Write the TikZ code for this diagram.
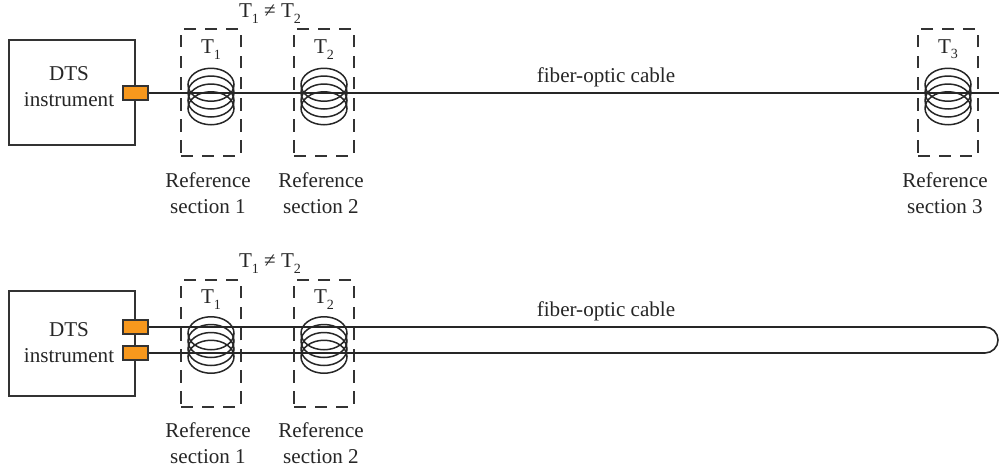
\documentclass[tikz,border=0pt]{standalone}
\usepackage{fontspec}
\setmainfont{Liberation Serif}
\usepackage{xcolor}
\definecolor{portorange}{HTML}{F7981D}
\newcommand{\tsub}[1]{T\raisebox{-0.55ex}{\footnotesize #1}}
\tikzset{
  instrbox/.style={draw=black!80,line width=0.9pt,minimum width=2.52cm,minimum height=2.1cm},
  port/.style={draw=black!80,fill=portorange,line width=0.9pt,minimum width=0.5cm,minimum height=0.27cm,inner sep=0pt},
  refbox/.style={draw=black!80,dashed,dash pattern=on 7pt off 5pt,line width=0.8pt,minimum width=1.2cm,minimum height=2.54cm},
  cable/.style={draw=black!85,line width=0.9pt},
  lbl/.style={align=center,inner sep=0pt,font=\fontsize{12}{14.7}\selectfont,text=black!85}
}
\newcommand{\coil}[1]{
\foreach \dy in {-0.235,-0.08,0.08,0.235}
  \draw[black!85,line width=0.85pt] ([yshift=\dy cm]#1) ellipse[x radius=0.46,y radius=0.33];
}
\begin{document}
\begin{tikzpicture}
\useasboundingbox (0,0) rectangle (19.98,9.4);
% upper layout
\node[refbox] (boxa) at (4.22,7.55) {};
\node[refbox] (boxb) at (6.48,7.55) {};
\node[refbox] (boxc) at (18.96,7.55) {};
\node[instrbox] (dts) at (1.44,7.55) {};
\node[lbl] (dtstext) at (1.38,7.66) {DTS\\instrument};
\node[port] (port) at (2.71,7.54) {};
\coordinate (cableend) at (19.98,7.54);
\draw[cable] (port.east) -- (cableend);
\coordinate (coila) at (4.22,7.47);
\coordinate (coilb) at (6.48,7.47);
\coordinate (coilc) at (18.96,7.47);
\coil{coila}
\coil{coilb}
\coil{coilc}
\node[lbl] (ta) at (4.22,8.41) {\tsub{1}};
\node[lbl] (tb) at (6.48,8.41) {\tsub{2}};
\node[lbl] (tc) at (18.96,8.41) {\tsub{3}};
\node[lbl] (neq) at (5.4,9.13) {\tsub{1} ≠ \tsub{2}};
\node[lbl] (fiber) at (12.12,7.85) {fiber-optic cable};
\node[lbl] (refa) at (4.16,5.54) {Reference\\section 1};
\node[lbl] (refb) at (6.42,5.54) {Reference\\section 2};
\node[lbl] (refc) at (18.9,5.54) {Reference\\section 3};
% lower layout
\node[refbox] (boxd) at (4.22,2.53) {};
\node[refbox] (boxe) at (6.48,2.53) {};
\node[instrbox] (dtsb) at (1.44,2.53) {};
\node[lbl] (dtsbtext) at (1.38,2.55) {DTS\\instrument};
\node[port] (portu) at (2.71,2.86) {};
\node[port] (portl) at (2.71,2.34) {};
\coordinate (loopu) at (19.96,2.86);
\coordinate (loopl) at (19.96,2.34);
\draw[cable,rounded corners=0.26cm] (portu.east) -- (loopu) -- (loopl) -- (portl.east);
\coordinate (coild) at (4.22,2.5);
\coordinate (coile) at (6.48,2.5);
\coil{coild}
\coil{coile}
\node[lbl] (td) at (4.22,3.41) {\tsub{1}};
\node[lbl] (te) at (6.48,3.41) {\tsub{2}};
\node[lbl] (neqb) at (5.4,4.13) {\tsub{1} ≠ \tsub{2}};
\node[lbl] (fiberb) at (12.12,3.17) {fiber-optic cable};
\node[lbl] (refd) at (4.16,0.54) {Reference\\section 1};
\node[lbl] (refe) at (6.42,0.54) {Reference\\section 2};
\end{tikzpicture}
\end{document}
